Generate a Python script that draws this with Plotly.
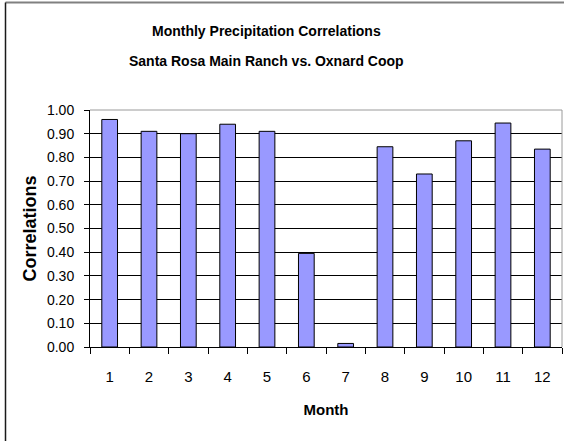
import plotly.graph_objects as go

# Monthly correlation of precipitation between the two stations
months = ["1", "2", "3", "4", "5", "6", "7", "8", "9", "10", "11", "12"]
correlations = [0.96, 0.91, 0.90, 0.94, 0.91, 0.395, 0.015, 0.845, 0.73, 0.87, 0.945, 0.835]
y_ticks = [0.0, 0.1, 0.2, 0.3, 0.4, 0.5, 0.6, 0.7, 0.8, 0.9, 1.0]
title_lines = ["Monthly Precipitation Correlations", "Santa Rosa Main Ranch vs. Oxnard Coop"]

W, H = 564, 441
L, R, T, B = 90, 2, 110, 94
plot_w = W - L - R
plot_h = H - T - B

font_main = "Liberation Sans, Arial, sans-serif"


def px_x(x):
    return (x - L) / plot_w


def px_y(y):
    return (H - B - y) / plot_h


fig = go.Figure(
    go.Bar(
        x=months,
        y=correlations,
        marker=dict(color="#9999FF", line=dict(color="#000000", width=1)),
        width=0.4,
    )
)

shapes = [
    # outer chart frame (top and left edges)
    dict(type="line", xref="paper", yref="paper", x0=px_x(5.5), x1=px_x(600),
         y0=px_y(2.5), y1=px_y(2.5), line=dict(color="#808080", width=2)),
    dict(type="line", xref="paper", yref="paper", x0=px_x(5.5), x1=px_x(5.5),
         y0=px_y(2.5), y1=px_y(460), line=dict(color="#1a1a1a", width=1.5)),
    # plot-area border on top and right
    dict(type="line", xref="paper", yref="paper", x0=0, x1=1, y0=1, y1=1,
         line=dict(color="#9a9a9a", width=1)),
    dict(type="line", xref="paper", yref="paper", x0=1, x1=1, y0=0, y1=1,
         line=dict(color="#9a9a9a", width=1)),
]

annotations = [
    dict(text=title_lines[0], xref="paper", yref="paper", x=px_x(266), y=px_y(31),
         xanchor="center", yanchor="middle", showarrow=False,
         font=dict(family=font_main, size=14, color="#000000", weight="bold")),
    dict(text=title_lines[1], xref="paper", yref="paper", x=px_x(266), y=px_y(61),
         xanchor="center", yanchor="middle", showarrow=False,
         font=dict(family=font_main, size=14, color="#000000", weight="bold")),
]

fig.update_layout(
    width=W,
    height=H,
    margin=dict(l=L, r=R, t=T, b=B),
    paper_bgcolor="white",
    plot_bgcolor="white",
    showlegend=False,
    shapes=shapes,
    annotations=annotations,
    font=dict(family=font_main, color="#000000", size=14),
    xaxis=dict(
        type="category",
        tickson="boundaries",
        ticks="outside",
        ticklen=6,
        tickcolor="#000000",
        tickwidth=1,
        showline=True,
        linecolor="#000000",
        linewidth=1,
        showgrid=False,
        ticklabelstandoff=16,
        tickfont=dict(size=15),
        title=dict(text="Month", font=dict(size=15, weight="bold"), standoff=20),
    ),
    yaxis=dict(
        range=[0, 1.0],
        tickvals=y_ticks,
        tickformat=".2f",
        ticks="outside",
        ticklen=5,
        tickcolor="#000000",
        showline=True,
        linecolor="#000000",
        linewidth=1,
        showgrid=True,
        gridcolor="#000000",
        gridwidth=1,
        zeroline=False,
        ticklabelstandoff=7,
        tickfont=dict(size=14),
        title=dict(text="Correlations", font=dict(size=18, weight="bold"), standoff=5),
    ),
)

fig.write_html("out.html")
